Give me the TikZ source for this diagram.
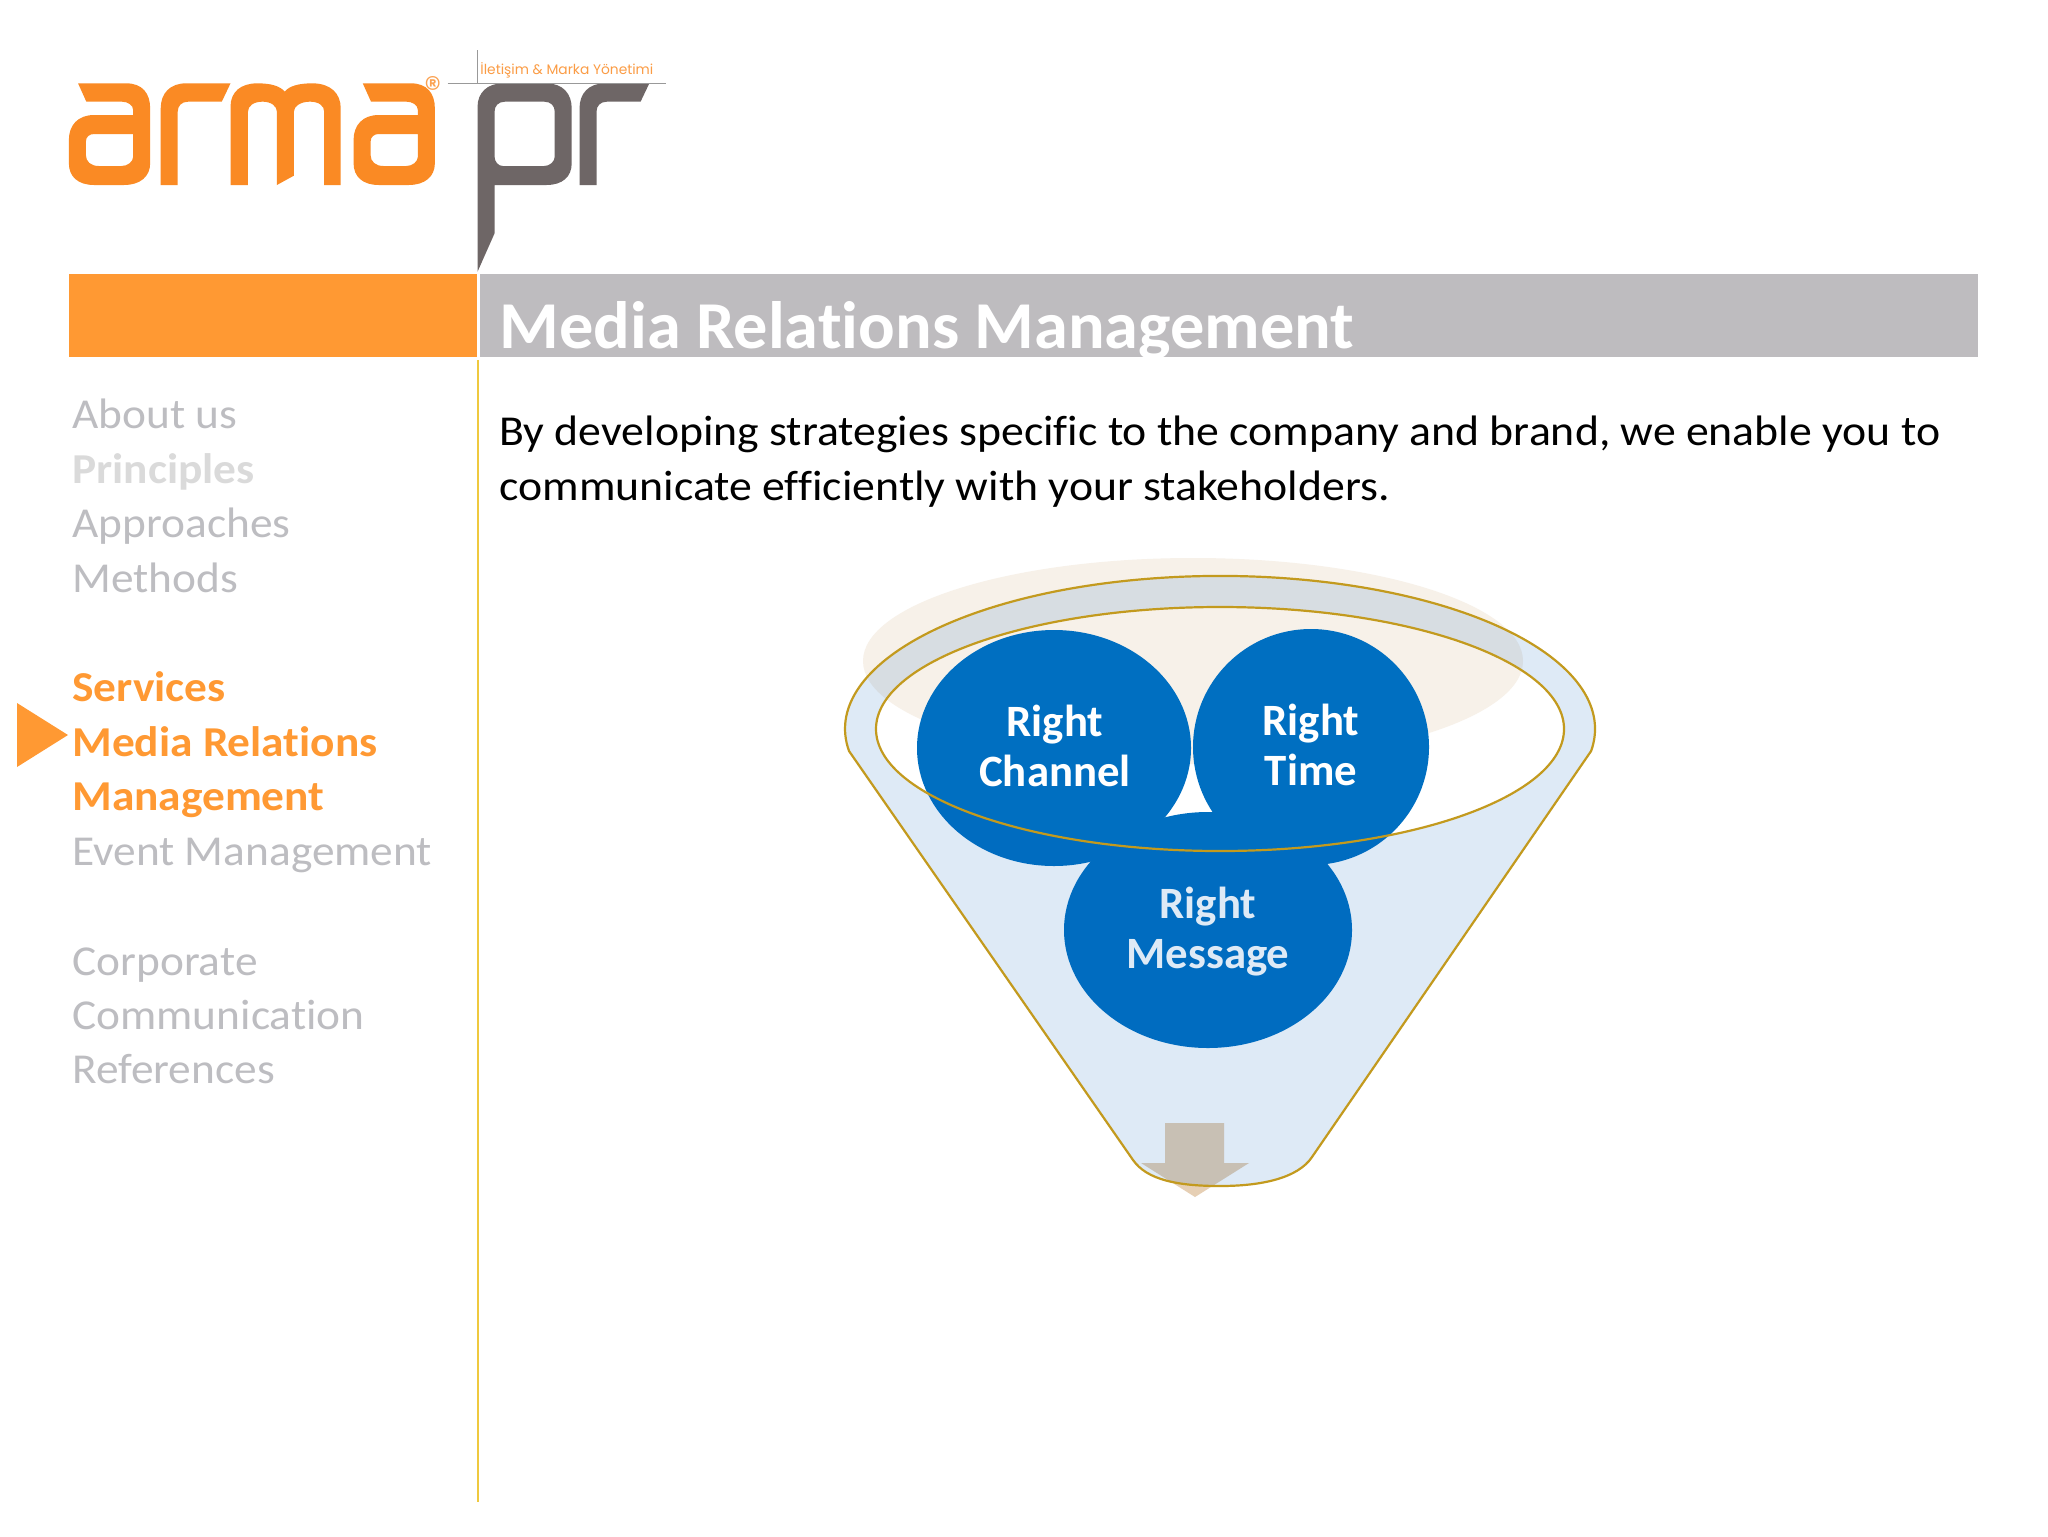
\documentclass[tikz,border=0pt]{standalone}
\usepackage{fontspec}
\setmainfont{Carlito}[Ligatures=CommonOff]
\newfontfamily\wide{Carlito}[Ligatures=CommonOff,FakeStretch=1.065]
\newfontfamily\bodyf{Carlito}[Ligatures=CommonOff,FakeStretch=1.074]
\newfontfamily\titlef{Carlito}[Ligatures=CommonOff,FakeStretch=1.02]
\newfontfamily\logofont{Poppins}
\definecolor{orng}{HTML}{FF9933}
\definecolor{logoO}{HTML}{FA8A24}
\definecolor{logoG}{HTML}{6E6666}
\definecolor{bandG}{HTML}{BEBCBF}
\definecolor{menuG}{HTML}{BDBDC1}
\definecolor{menuL}{HTML}{DADADA}
\definecolor{vline}{HTML}{EFC93F}
\definecolor{gold}{HTML}{C39A1E}
\definecolor{bubb}{HTML}{006FC1}
\definecolor{veil}{HTML}{005DBA}
\definecolor{beige}{HTML}{F7F1E9}
\definecolor{tan}{HTML}{E6CFB4}
\tikzset{
  x=0.5pt,y=-0.5pt,
  menuitem/.style={anchor=base west,inner sep=0pt,text=menuG,font=\wide\fontsize{21.3}{25}\selectfont},
  menuact/.style={menuitem,text=orng,font=\wide\fontsize{21.3}{25}\selectfont\bfseries},
  menubold/.style={menuitem,text=menuL,font=\wide\fontsize{21.3}{25}\selectfont\bfseries},
  bubble/.style={ellipse,fill=bubb,inner sep=0pt},
  bublabel/.style={text=white,inner sep=0pt,align=center,font=\fontsize{22.4}{25}\selectfont\bfseries},
  bodytext/.style={anchor=base west,inner sep=0pt,text=black,font=\bodyf\fontsize{21.3}{25}\selectfont},
}
\usetikzlibrary{shapes.geometric}
\begin{document}
\begin{tikzpicture}
\useasboundingbox (0,0) rectangle (2048,1536);
\fill[white] (0,0) rectangle (2048,1536);
% bands
\fill[orng] (69,274) rectangle (477,357);
\fill[bandG] (480,274) rectangle (1978,357);
\draw[vline,line width=1.2pt] (478,360) -- (478,1502);
\node[anchor=base west,inner sep=0pt,text=white,font=\titlef\fontsize{33.5}{40}\selectfont\bfseries] (title) at (499,348) {Media Relations Management};
% logo (coordinates of a 2.178 x 3 scaled crop)
\begin{scope}[x=0.2296pt,y=-0.16667pt]
 \def\letA{(170,250) -- (275,250) .. controls (310,250) and (327,280) .. (327,325) -- (327,490) .. controls (327,530) and (305,555) .. (270,555) -- (205,555) .. controls (170,555) and (150,530) .. (150,490) -- (150,420) .. controls (150,375) and (170,345) .. (205,345) -- (290,345) -- (290,330) .. controls (290,315) and (278,305) .. (265,305) -- (188,305) -- cycle
 (205,402) -- (290,402) -- (290,470) .. controls (290,485) and (278,498) .. (265,498) -- (215,498) .. controls (198,498) and (187,485) .. (187,465) -- (187,425) .. controls (187,410) and (195,402) .. (205,402) -- cycle}
 \def\letR{(350,555) -- (350,325) .. controls (350,280) and (370,250) .. (405,250) -- (502,250) -- (483,305) -- (410,305) .. controls (395,305) and (387,318) .. (387,335) -- (387,555) -- cycle}
 \fill[logoO,even odd rule] \letA;
 \fill[logoO] \letR;
 \fill[logoO] (502,555) -- (502,320) .. controls (502,275) and (525,250) .. (560,250) .. controls (590,250) and (610,258) .. (620,275) .. controls (630,258) and (650,250) .. (680,250) .. controls (720,250) and (742,280) .. (742,325) -- (742,555) -- (706,555) -- (706,335) .. controls (706,318) and (695,305) .. (675,305) .. controls (655,305) and (640,318) .. (640,335) -- (640,527) -- (603,555) -- (603,335) .. controls (603,318) and (590,305) .. (572,305) .. controls (552,305) and (540,318) .. (540,335) -- (540,555) -- cycle;
 \begin{scope}[xshift=142.35pt]
  \fill[logoO,even odd rule] \letA;
 \end{scope}
 \fill[logoG,even odd rule] (1040,815) -- (1040,320) .. controls (1040,280) and (1060,250) .. (1095,250) -- (1190,250) .. controls (1225,250) and (1245,280) .. (1245,325) -- (1245,490) .. controls (1245,530) and (1225,555) .. (1190,555) -- (1077,555) -- (1077,700) -- cycle
 (1100,305) -- (1185,305) .. controls (1200,305) and (1208,318) .. (1208,335) -- (1208,470) .. controls (1208,485) and (1197,498) .. (1185,498) -- (1095,498) .. controls (1085,498) and (1077,485) .. (1077,470) -- (1077,335) .. controls (1077,318) and (1085,305) .. (1100,305) -- cycle;
 \begin{scope}[xshift=209.4pt]
  \fill[logoG] \letR;
 \end{scope}
 \draw[black!40,line width=0.3pt] (975,250) -- (1450,250);
 \draw[black!40,line width=0.3pt] (1040,150) -- (1040,250);
\end{scope}
\node[inner sep=0pt,text=logoO!80,font=\logofont\fontsize{17}{18}\selectfont] (reg) at (433,88) {®};
\node[anchor=base west,inner sep=0pt,text=logoO!85,font=\logofont\fontsize{6.9}{8}\selectfont] (tagline) at (480,75) {İletişim \& Marka Yönetimi};
% menu
\node[menuitem] (m1) at (72,428) {About us};
\node[menubold] (m2) at (72,483) {Principles};
\node[menuitem] (m3) at (72,537) {Approaches};
\node[menuitem] (m4) at (72,592) {Methods};
\node[menuact] (m5) at (72,701) {Services};
\node[menuact] (m6) at (72,756) {Media Relations};
\node[menuact] (m7) at (72,810) {Management};
\node[menuitem] (m8) at (72,865) {Event Management};
\node[menuitem] (m9) at (72,975) {Corporate};
\node[menuitem] (m10) at (72,1029) {Communication};
\node[menuitem] (m11) at (72,1083) {References};
\fill[orng] (17,703) -- (68,735) -- (17,767) -- cycle;
% body
\node[bodytext] (b1) at (499,445) {By developing strategies specific to the company and brand, we enable you to};
\node[bodytext] (b2) at (499,500) {communicate efficiently with your stakeholders.};
% funnel
\fill[beige] (1193,661) ellipse [x radius=330,y radius=103];
\node[bubble,minimum width=137pt,minimum height=118pt] (rc) at (1054,748) {};
\node[bubble,minimum width=118pt,minimum height=118pt] (rt) at (1311,747) {};
\node[bubble,minimum width=144pt,minimum height=118pt] (rm) at (1208,930) {};
\node[bublabel] (rcl) at (1055,746) {Right\\Channel};
\node[bublabel] (rtl) at (1311,745) {Right\\Time};
\node[bublabel] (rml) at (1208,932) {Right\\Message};
\fill[tan] (1165,1123) -- (1224,1123) -- (1224,1163) -- (1249,1163) -- (1195,1197) -- (1141,1163) -- (1165,1163) -- cycle;
\def\funnelshape{(849,751) arc [start angle=171.7,end angle=368.3,x radius=375,y radius=153] -- (1312,1157) .. controls (1298,1178) and (1262,1186) .. (1220,1186) .. controls (1178,1186) and (1147,1180) .. (1133,1160) -- cycle}
\fill[veil,fill opacity=0.13,even odd rule] \funnelshape (1220,729) ellipse [x radius=344,y radius=122];
\draw[gold,line width=1.1pt] \funnelshape;
\draw[gold,line width=1.1pt] (1220,729) ellipse [x radius=344,y radius=122];
\end{tikzpicture}
\end{document}
